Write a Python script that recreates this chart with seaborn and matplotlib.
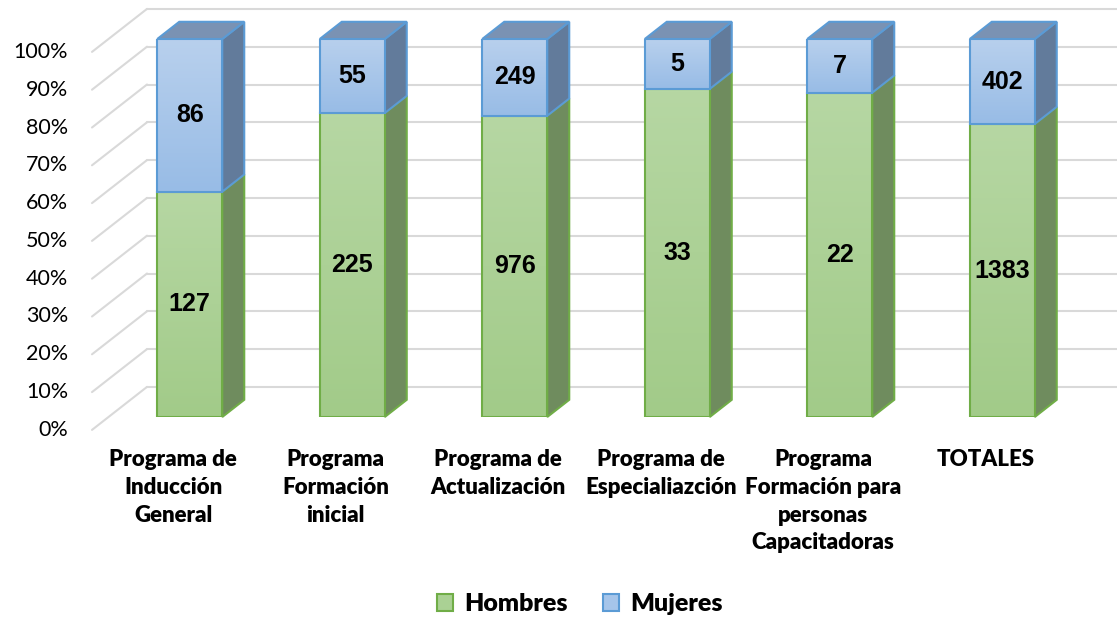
import numpy as np
import pandas as pd
import matplotlib
matplotlib.use("Agg")
import matplotlib.pyplot as plt
import seaborn as sns
from matplotlib.patches import Polygon, Patch
from matplotlib.colors import LinearSegmentedColormap

# ---- data ----
categories = ["Programa de\nInducción\nGeneral",
              "Programa\nFormación\ninicial",
              "Programa de\nActualización",
              "Programa de\nEspecialiazción",
              "Programa\nFormación para\npersonas\nCapacitadoras",
              "TOTALES"]
hombres = [127, 225, 976, 33, 22, 1383]
mujeres = [86, 55, 249, 5, 7, 402]
# share of Hombres (%) as drawn in the picture
hombres_pct = [59.6, 80.4, 79.7, 86.8, 85.8, 77.5]
y_ticks = [0, 10, 20, 30, 40, 50, 60, 70, 80, 90, 100]
y_tick_labels = [f"{t}%" for t in y_ticks]
series_names = ["Hombres", "Mujeres"]

# ---- style ----
green_top, green_bot = "#B6D7A3", "#A2CB89"
green_front = "#AAD194"
green_edge = "#70AD47"
green_side = "#6F8C5E"
blue_top_c, blue_bot_c = "#B8D0ED", "#98BCE6"
blue_front = "#A6C5EA"
blue_edge = "#5B9BD5"
blue_side = "#627B9B"
blue_topface = "#7A92B3"
grid_col = "#D9D9D9"

sns.set_style("white")
W, H = 1117, 618
fig = plt.figure(figsize=(W / 100, H / 100), dpi=100)
# axes = front plane of the bars
ax = fig.add_axes([108.5 / W, 201 / H, 975 / W, 378 / H])

df = pd.DataFrame({"cat": categories, "h": hombres, "m": mujeres,
                   "h_pct": hombres_pct})
df["m_pct"] = 100.0 - df["h_pct"]

bw = 0.4
sns.barplot(data=df, x="cat", y="h_pct", color=green_front, edgecolor=green_edge,
            linewidth=1.5, width=bw, saturation=1, errorbar=None, ax=ax, zorder=3)
n_green = len(ax.patches)
sns.barplot(data=df, x="cat", y="m_pct", color=blue_front, edgecolor=blue_edge,
            linewidth=1.5, width=bw, saturation=1, errorbar=None, ax=ax, zorder=4)
green_bars = ax.patches[:n_green]
blue_bars = ax.patches[n_green:]
# stack Mujeres on top of Hombres
for gb, bb in zip(green_bars, blue_bars):
    bb.set_y(gb.get_y() + gb.get_height())

ax.set_xlim(-0.5, 5.5)
ax.set_ylim(0, 100)
ax.set_xlabel("")
ax.set_ylabel("")
ax.set_xticks([])
ax.set_yticks([])
for s in ax.spines.values():
    s.set_visible(False)
ax.patch.set_visible(False)

# vertical gradients on front faces
grad = np.linspace(1, 0, 64).reshape(-1, 1)
cm_g = LinearSegmentedColormap.from_list("g", [green_bot, green_top])
cm_b = LinearSegmentedColormap.from_list("b", [blue_bot_c, blue_top_c])
for bars, cm in ((green_bars, cm_g), (blue_bars, cm_b)):
    for p in bars:
        x0, y0 = p.get_x(), p.get_y()
        w, h = p.get_width(), p.get_height()
        im = ax.imshow(grad, cmap=cm, aspect="auto", extent=(x0, x0 + w, y0, y0 + h),
                       zorder=p.get_zorder() - 0.05, interpolation="bilinear")
        im.set_clip_path(p)
        p.set_facecolor("none")
ax.set_xlim(-0.5, 5.5)
ax.set_ylim(0, 100)

# pixel -> data scale
fig.canvas.draw()
p0 = ax.transData.transform((0, 0))
sx = ax.transData.transform((1, 0))[0] - p0[0]
sy = ax.transData.transform((0, 1))[1] - p0[1]
D = np.array([55.0, 43.0])  # full depth vector in px
front = -0.3 * D / [sx, sy]
back = 0.7 * D / [sx, sy]
bdepth = 0.4 * D / [sx, sy]

# gridlines: side wall + back wall
xl, xr = -0.5, 5.5
for v in y_ticks:
    ax.plot([xl + front[0], xl + back[0]], [v + front[1], v + back[1]],
            color=grid_col, lw=1.5, zorder=1, clip_on=False)
    ax.plot([xl + back[0], xr + back[0]], [v + back[1], v + back[1]],
            color=grid_col, lw=1.5, zorder=1, clip_on=False)

# y tick labels on the front plane
for v, lab in zip(y_ticks, y_tick_labels):
    ax.text(xl + front[0] - 24 / sx, v + front[1], lab, ha="right", va="center",
            fontsize=15.5, family="Lato", color="black", clip_on=False)

# 3D side and top faces
for i, hp in enumerate(df["h_pct"]):
    xr_b = i + bw / 2
    xl_b = i - bw / 2
    segs = [(0, hp, green_side, green_edge), (hp, 100, blue_side, blue_edge)]
    for b, t, fc, ec in segs:
        poly = Polygon([(xr_b, b), (xr_b + bdepth[0], b + bdepth[1]),
                        (xr_b + bdepth[0], t + bdepth[1]), (xr_b, t)],
                       closed=True, facecolor=fc, edgecolor=ec, lw=1.5,
                       zorder=2.5, clip_on=False)
        ax.add_patch(poly)
    top = Polygon([(xl_b, 100), (xl_b + bdepth[0], 100 + bdepth[1]),
                   (xr_b + bdepth[0], 100 + bdepth[1]), (xr_b, 100)],
                  closed=True, facecolor=blue_topface, edgecolor=blue_edge, lw=1.5,
                  zorder=2.5, clip_on=False)
    ax.add_patch(top)

# data labels
for i, row in df.iterrows():
    ax.text(i, row["h_pct"] / 2, f"{row['h']}", ha="center", va="center",
            fontsize=18, fontweight="bold", family="Liberation Sans",
            color="black", zorder=6)
    ax.text(i, (row["h_pct"] + 100) / 2, f"{row['m']}", ha="center", va="center",
            fontsize=18, fontweight="bold", family="Liberation Sans",
            color="black", zorder=6)

# category labels
for i, c in enumerate(categories):
    ax.text(i + front[0], front[1] - 19 / sy, c, ha="center", va="top",
            fontsize=16, fontweight="heavy", family="Lato", linespacing=1.4,
            color="black", clip_on=False)

handles = [Patch(facecolor=green_front, edgecolor=green_edge, lw=1.5),
           Patch(facecolor=blue_front, edgecolor=blue_edge, lw=1.5)]
leg = fig.legend(handles, series_names, loc="center",
                 bbox_to_anchor=(580 / W, 1 - 604 / H),
                 ncol=2, frameon=False, handlelength=0.65, handleheight=0.65,
                 handletextpad=0.45, columnspacing=1.4,
                 prop={"family": "Lato", "weight": "heavy", "size": 18})
for t in leg.get_texts():
    t.set_fontweight("heavy")
    t.set_color("black")

fig.savefig("out.png", dpi=100)
